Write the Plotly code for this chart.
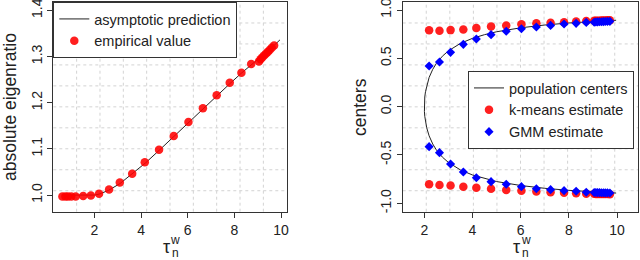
import plotly.graph_objects as go

# ---------------- data ----------------
# left panel: absolute eigenratio vs tau
emp_tau = [0.63, 0.76, 0.87, 1.01, 1.20, 1.52, 1.85, 2.20, 2.63, 3.09, 3.62, 4.16,
           4.77, 5.40, 6.03, 6.65, 7.24, 7.80, 8.30, 8.72,
           9.05, 9.12, 9.19, 9.27, 9.35, 9.43, 9.51, 9.60, 9.70]
emp_ratio = [0.997, 0.997, 0.997, 0.997, 0.997, 0.998, 0.999, 1.003, 1.012, 1.027, 1.046, 1.071,
             1.098, 1.128, 1.158, 1.188, 1.216, 1.243, 1.265, 1.284,
             1.289, 1.294, 1.298, 1.302, 1.306, 1.310, 1.314, 1.319, 1.324]
pred_tau = [0.6, 2.0, 2.2, 2.6, 3.1, 3.6, 4.2, 4.8, 5.4, 6.0, 6.6, 7.2, 7.8, 8.3, 8.7, 9.1, 9.7, 9.95]
pred_ratio = [1.0, 1.0, 1.002, 1.010, 1.025, 1.045, 1.070, 1.098, 1.127, 1.156, 1.185, 1.213,
              1.241, 1.264, 1.282, 1.298, 1.324, 1.336]

# right panel: centers vs tau
est_tau = [2.20, 2.63, 3.09, 3.62, 4.16, 4.77, 5.40, 6.03, 6.65, 7.24, 7.80, 8.30, 8.72,
           9.05, 9.12, 9.19, 9.27, 9.35, 9.43, 9.51, 9.60, 9.70]
kmeans_upper = [0.790, 0.786, 0.792, 0.798, 0.815, 0.829, 0.840, 0.852, 0.862, 0.869, 0.874, 0.881, 0.886,
                0.888, 0.889, 0.890, 0.890, 0.891, 0.892, 0.892, 0.893, 0.893]
kmeans_lower = [-0.803, -0.810, -0.817, -0.828, -0.838, -0.849, -0.862, -0.869, -0.879, -0.886, -0.890, -0.897, -0.900,
                -0.902, -0.903, -0.903, -0.904, -0.904, -0.905, -0.905, -0.905, -0.906]
gmm_upper = [0.421, 0.462, 0.562, 0.645, 0.700, 0.745, 0.780, 0.806, 0.824, 0.841, 0.855, 0.862, 0.872,
             0.874, 0.876, 0.877, 0.878, 0.879, 0.880, 0.881, 0.882, 0.883]
gmm_lower = [-0.414, -0.476, -0.593, -0.676, -0.735, -0.776, -0.803, -0.828, -0.849, -0.859, -0.869, -0.876, -0.886,
             -0.888, -0.889, -0.890, -0.890, -0.891, -0.891, -0.892, -0.892, -0.893]
pop_tau = [9.96, 9.0, 8.0, 7.0, 6.0, 5.0, 4.5, 4.0, 3.5, 3.0, 2.75, 2.5, 2.35, 2.2, 2.1, 2.05, 2.02, 2.005, 2.0,
           2.005, 2.02, 2.05, 2.1, 2.2, 2.35, 2.5, 2.75, 3.0, 3.5, 4.0, 4.5, 5.0, 6.0, 7.0, 8.0, 9.0, 9.96]
pop_center = [0.894, 0.882, 0.866, 0.845, 0.816, 0.775, 0.745, 0.707, 0.655, 0.577, 0.522, 0.447, 0.386,
              0.302, 0.218, 0.156, 0.100, 0.050, 0.0,
              -0.050, -0.100, -0.156, -0.218, -0.302, -0.386, -0.447, -0.522, -0.577, -0.655, -0.707,
              -0.745, -0.775, -0.816, -0.845, -0.866, -0.882, -0.894]

x_ticks = [2, 4, 6, 8, 10]
x_ticktext = ["2", "4", "6", "8", "10"]
left_y_ticks = [1.0, 1.1, 1.2, 1.3, 1.4]
left_y_ticktext = ["1.0", "1.1", "1.2", "1.3", "1.4"]
right_y_ticks = [-1.0, -0.5, 0.0, 0.5, 1.0]
right_y_ticktext = ["-1.0", "-0.5", "0.0", "0.5", "1.0"]

# ---------------- figure ----------------
W, H = 640, 260
FONT = "Liberation Sans, Arial, Helvetica, sans-serif"
RED = "rgba(255,0,0,0.88)"
BLUE = "#0000FF"
LINE = "#222222"


def px(x):
    return x / W


def py(y):
    return 1 - y / H


fig = go.Figure()

fig.add_trace(go.Scatter(x=pred_tau, y=pred_ratio, mode="lines", name="asymptotic prediction",
                         line=dict(color=LINE, width=1), xaxis="x", yaxis="y", legend="legend"))
fig.add_trace(go.Scatter(x=emp_tau, y=emp_ratio, mode="markers", name="empirical value",
                         marker=dict(color=RED, size=8.5, line=dict(width=0)),
                         xaxis="x", yaxis="y", legend="legend"))

fig.add_trace(go.Scatter(x=pop_tau, y=pop_center, mode="lines", name="population centers",
                         line=dict(color=LINE, width=1), xaxis="x2", yaxis="y2", legend="legend2"))
fig.add_trace(go.Scatter(x=est_tau + est_tau, y=kmeans_upper + kmeans_lower, mode="markers",
                         name="k-means estimate",
                         marker=dict(color=RED, size=8.5, line=dict(width=0)),
                         xaxis="x2", yaxis="y2", legend="legend2"))
fig.add_trace(go.Scatter(x=est_tau + est_tau, y=gmm_upper + gmm_lower, mode="markers",
                         name="GMM estimate",
                         marker=dict(color=BLUE, size=7, symbol="diamond", line=dict(width=0)),
                         xaxis="x2", yaxis="y2", legend="legend2"))

# plot boxes (pixel geometry)
L1, R1 = 53.3, 286.7
L2, R2 = 402.7, 638.3
TOP, BOT = 2.0, 211.7

axis_common = dict(showline=True, mirror=True, linecolor="#333333", linewidth=1,
                   ticks="outside", ticklen=5, tickwidth=1, tickcolor="#333333",
                   showgrid=False, zeroline=False, automargin=False,
                   ticklabeloverflow="allow",
                   tickfont=dict(family=FONT, size=14, color="#222222"))

fig.update_layout(
    width=W, height=H,
    margin=dict(l=0, r=0, t=0, b=0, autoexpand=False),
    paper_bgcolor="white", plot_bgcolor="white",
    font=dict(family=FONT, color="#222222"),
    xaxis=dict(domain=[px(L1), px(R1)], range=[0.24, 10.24], anchor="y",
               tickvals=x_ticks, ticktext=x_ticktext, **axis_common),
    yaxis=dict(domain=[py(BOT), py(TOP)], range=[0.964, 1.418], anchor="x",
               tickvals=left_y_ticks, ticktext=left_y_ticktext, tickangle=-90, **axis_common),
    xaxis2=dict(domain=[px(L2), px(R2)], range=[1.104, 10.88], anchor="y2",
                tickvals=x_ticks, ticktext=x_ticktext, **axis_common),
    yaxis2=dict(domain=[py(BOT), py(TOP)], range=[-1.087, 1.083], anchor="x2",
                tickvals=right_y_ticks, ticktext=right_y_ticktext, tickangle=-90, **axis_common),
    legend=dict(x=px(L1), y=py(TOP), xanchor="left", yanchor="top",
                bgcolor="white", bordercolor="#333333", borderwidth=1,
                font=dict(family=FONT, size=14.5, color="#222222"),
                tracegroupgap=0),
    legend2=dict(x=px(468), y=py(71), xanchor="left", yanchor="top",
                 bgcolor="white", bordercolor="#333333", borderwidth=1,
                 font=dict(family=FONT, size=14.5, color="#222222"),
                 tracegroupgap=0),
    showlegend=True,
)

# dotted grid: 10 equal divisions of each plotting region
shapes = []
for xr, yr in (("x domain", "y domain"), ("x2 domain", "y2 domain")):
    for i in range(1, 10):
        f = i / 10
        shapes.append(dict(type="line", xref=xr, yref=yr, x0=f, x1=f, y0=0, y1=1,
                           line=dict(color="#D3D3D3", width=1, dash="dot"), layer="below"))
        shapes.append(dict(type="line", xref=xr, yref=yr, x0=0, x1=1, y0=f, y1=f,
                           line=dict(color="#D3D3D3", width=1, dash="dot"), layer="below"))
fig.update_layout(shapes=shapes)

# axis titles as annotations
ann = []
ann.append(dict(text="absolute eigenratio", x=px(10), y=py(107), xref="paper", yref="paper",
                textangle=-90, showarrow=False, xanchor="center", yanchor="middle",
                font=dict(family=FONT, size=17.5, color="#222222")))
ann.append(dict(text="centers", x=px(360), y=py(107), xref="paper", yref="paper",
                textangle=-90, showarrow=False, xanchor="center", yanchor="middle",
                font=dict(family=FONT, size=17.5, color="#222222")))
for cx in ((L1 + R1) / 2, (L2 + R2) / 2):
    ann.append(dict(text="τ", x=px(cx - 4), y=py(247), xref="paper", yref="paper",
                    showarrow=False, xanchor="center", yanchor="middle",
                    font=dict(family=FONT, size=18, color="#222222")))
    ann.append(dict(text="w", x=px(cx + 5), y=py(240), xref="paper", yref="paper",
                    showarrow=False, xanchor="center", yanchor="middle",
                    font=dict(family=FONT, size=12, color="#222222")))
    ann.append(dict(text="n", x=px(cx + 5), y=py(252.5), xref="paper", yref="paper",
                    showarrow=False, xanchor="center", yanchor="middle",
                    font=dict(family=FONT, size=12, color="#222222")))
fig.update_layout(annotations=ann)

fig.write_html("out.html",
               config={"displayModeBar": False},
               post_script="document.body.style.margin='0';document.body.style.padding='0';"
                           "document.body.style.overflow='hidden';")
